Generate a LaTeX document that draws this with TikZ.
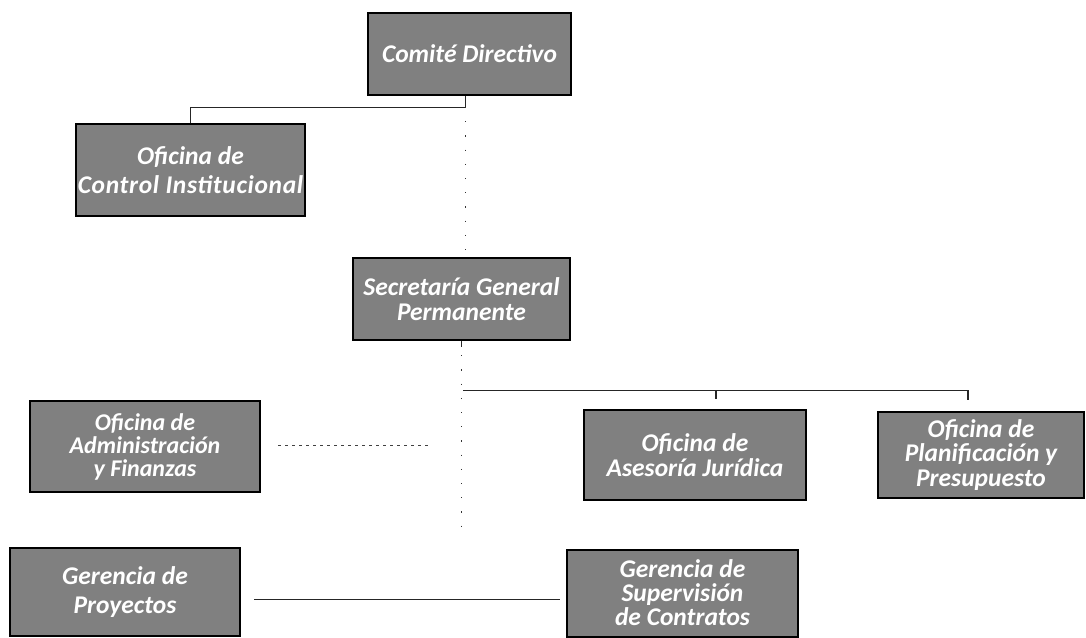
\documentclass[tikz,border=0pt]{standalone}
\usepackage{fontspec}
\setmainfont{Carlito}
\usetikzlibrary{calc}
\tikzset{
  box/.style={draw=black, line width=2pt, fill=black!50, text=white,
    font=\fontsize{25.5}{25}\selectfont\bfseries\itshape, align=center,
    inner sep=2pt},
  link/.style={draw=black!85, line width=0.7pt},
  spine/.style={draw=black!80, line width=0.8pt, dash pattern=on 1.2pt off 13pt},
  dotlink/.style={draw=black!75, line width=0.7pt, dash pattern=on 3pt off 4pt},
}
\begin{document}
\begin{tikzpicture}[x=1pt,y=-1pt]
\useasboundingbox (0,0) rectangle (1086,637);
\node[box, minimum width=203pt, minimum height=82pt] (com) at (469.5,54) {Comité Directivo};
\node[box, minimum width=225pt, minimum height=92pt, font=\fontsize{25.5}{29}\selectfont\bfseries\itshape] (oci) at (190.5,170) {Oficina de\\\addfontfeatures{LetterSpace=2.5}Control Institucional};
\node[box, minimum width=217pt, minimum height=82pt] (sec) at (461.5,299) {Secretaría General\\Permanente};
\node[box, minimum width=230pt, minimum height=91pt, font=\fontsize{24}{23}\selectfont\bfseries\itshape] (adm) at (145,446.5) {Oficina de\\Administración\\y Finanzas};
\node[box, minimum width=222pt, minimum height=90pt] (ase) at (695,455) {Oficina de\\Asesoría Jurídica};
\node[box, minimum width=206pt, minimum height=86pt, font=\fontsize{25.5}{24.5}\selectfont\bfseries\itshape] (pla) at (981,455) {Oficina de\\Planificación y\\Presupuesto};
\node[box, minimum width=230pt, minimum height=88pt, font=\fontsize{25.5}{29}\selectfont\bfseries\itshape] (pro) at (125,592) {Gerencia de\\Proyectos};
\node[box, minimum width=231pt, minimum height=87pt, font=\fontsize{25.5}{24}\selectfont\bfseries\itshape] (sup) at (682.5,593) {Gerencia de\\Supervisión\\de Contratos};

\coordinate (j1) at (465,107);
\coordinate (j2) at (461,532);
\coordinate (h0) at (463,390);
\coordinate (h1) at (968,390);
\coordinate (t1) at (716,390);
\coordinate (t1e) at (716,399);
\coordinate (t2e) at (968,400);
\coordinate (a1) at (430,445);
\coordinate (p2) at (560,599);

% Comite to OCI
\draw[link] (com.south -| j1) -- (j1) -| (oci.north);
% spine Comite to Secretaria
\draw[spine] (j1) -- (sec.north -| j1);
% below Secretaria
\draw[link] (sec.south -| j2) -- ++(0,6);
\draw[spine] (sec.south -| j2) -- (j2);
% horizontal to Asesoria and Planificacion
\draw[link] (h0) -- (h1);
\draw[link, line width=1.2pt] (t1) -- (t1e);
\draw[link, line width=1.2pt] (h1) -- (t2e);
% Administracion
\draw[dotlink] ([xshift=17pt]adm.east |- a1) -- (a1);
% Proyectos to Supervision
\draw[link] ([xshift=13pt]pro.east |- p2) -- (p2);
\end{tikzpicture}
\end{document}
